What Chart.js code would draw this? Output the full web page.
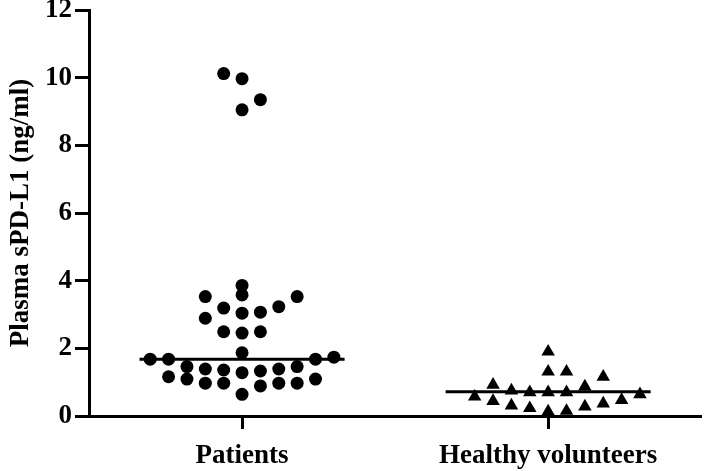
<!DOCTYPE html>
<html><head><meta charset="utf-8">
<script src="https://cdn.jsdelivr.net/npm/chart.js@4/dist/chart.umd.min.js"></script>
<style>html,body{margin:0;padding:0;background:#fff}#wrap{width:709px;height:471px;position:relative}</style>
</head><body><div id="wrap"><canvas id="c"></canvas></div>
<script>
const categories = ['Patients', 'Healthy volunteers'];
const yTicks = [0, 2, 4, 6, 8, 10, 12];
const yTitle = 'Plasma sPD-L1 (ng/ml)';

const patientsValues = [10.12, 9.97, 9.35, 9.05,
  3.86, 3.53, 3.58, 3.53,
  3.19, 3.04, 3.07, 3.23,
  2.89, 2.49, 2.45, 2.49, 1.87,
  1.68, 1.68, 1.68, 1.74,
  1.46, 1.39, 1.36, 1.28, 1.33, 1.39, 1.46,
  1.16, 1.09, 0.97, 0.97, 0.89, 0.97, 0.97, 1.09,
  0.64];
const patientsColumns = [-1, 0, 1, 0,
  0, -2, 0, 3,
  -1, 0, 1, 2,
  -2, -1, 0, 1, 0,
  -5, -4, 4, 5,
  -3, -2, -1, 0, 1, 2, 3,
  -4, -3, -2, -1, 1, 2, 3, 4,
  0];

const healthyValues = [1.90, 1.31, 1.31, 1.16,
  0.92, 0.75, 0.70, 0.70, 0.70, 0.87, 0.57, 0.64,
  0.44, 0.31, 0.23, 0.13, 0.15, 0.28, 0.37, 0.47];
const healthyColumns = [0, 0, 1, 3,
  -3, -2, -1, 0, 1, 2, -4, 5,
  -3, -2, -1, 0, 1, 2, 3, 4];

const medians = [1.68, 0.72];

const catPos = [1, 3];
const colStep = 0.12;
const medianHalf = 0.67;
const FONT = "'Liberation Serif', 'Times New Roman', serif";

function pts(vals, cols, c) { return vals.map((v, i) => ({ x: catPos[c] + cols[i] * colStep, y: v })); }
function medLine(c) { return [{ x: catPos[c] - medianHalf, y: medians[c] }, { x: catPos[c] + medianHalf, y: medians[c] }]; }

new Chart(document.getElementById('c'), {
  type: 'scatter',
  data: {
    datasets: [
      { data: pts(patientsValues, patientsColumns, 0), pointStyle: 'circle', pointRadius: 6.5, backgroundColor: '#000', borderWidth: 0 },
      { data: pts(healthyValues, healthyColumns, 1), pointStyle: 'triangle', pointRadius: 7.8, backgroundColor: '#000', borderWidth: 0 },
      { type: 'line', data: medLine(0), borderColor: '#000', borderWidth: 3, pointRadius: 0, showLine: true, fill: false },
      { type: 'line', data: medLine(1), borderColor: '#000', borderWidth: 3, pointRadius: 0, showLine: true, fill: false }
    ]
  },
  options: {
    responsive: true, maintainAspectRatio: false, animation: false,
    layout: { padding: { top: 10, right: 6, left: 0, bottom: 0 } },
    plugins: { legend: { display: false }, tooltip: { enabled: false } },
    scales: {
      x: {
        type: 'linear', min: 0, max: 4,
        afterBuildTicks: s => { s.ticks = catPos.map(v => ({ value: v })); },
        afterFit: s => { s.height = 55; s.paddingLeft = 0; s.paddingRight = 0; },
        ticks: { callback: (v, i) => categories[i], font: { family: FONT, size: 27, weight: 'bold' }, color: '#000', padding: 11, autoSkip: false, maxRotation: 0 },
        grid: { drawOnChartArea: false, drawTicks: true, tickLength: 13, tickWidth: 3, tickColor: '#000' },
        border: { display: true, width: 3, color: '#000' }
      },
      y: {
        min: 0, max: 12,
        afterBuildTicks: s => { s.ticks = yTicks.map(v => ({ value: v })); },
        afterFit: s => { s.width = 89; s.paddingTop = 0; s.paddingBottom = 0; },
        ticks: { font: { family: FONT, size: 27, weight: 'bold' }, color: '#000', padding: 3 },
        grid: { drawOnChartArea: false, drawTicks: true, tickLength: 14, tickWidth: 3, tickColor: '#000' },
        border: { display: true, width: 3, color: '#000' },
        title: { display: true, text: yTitle, font: { family: FONT, size: 27, weight: 'bold' }, color: '#000', padding: { top: 5, bottom: 0 } }
      }
    }
  }
});
</script></body></html>
